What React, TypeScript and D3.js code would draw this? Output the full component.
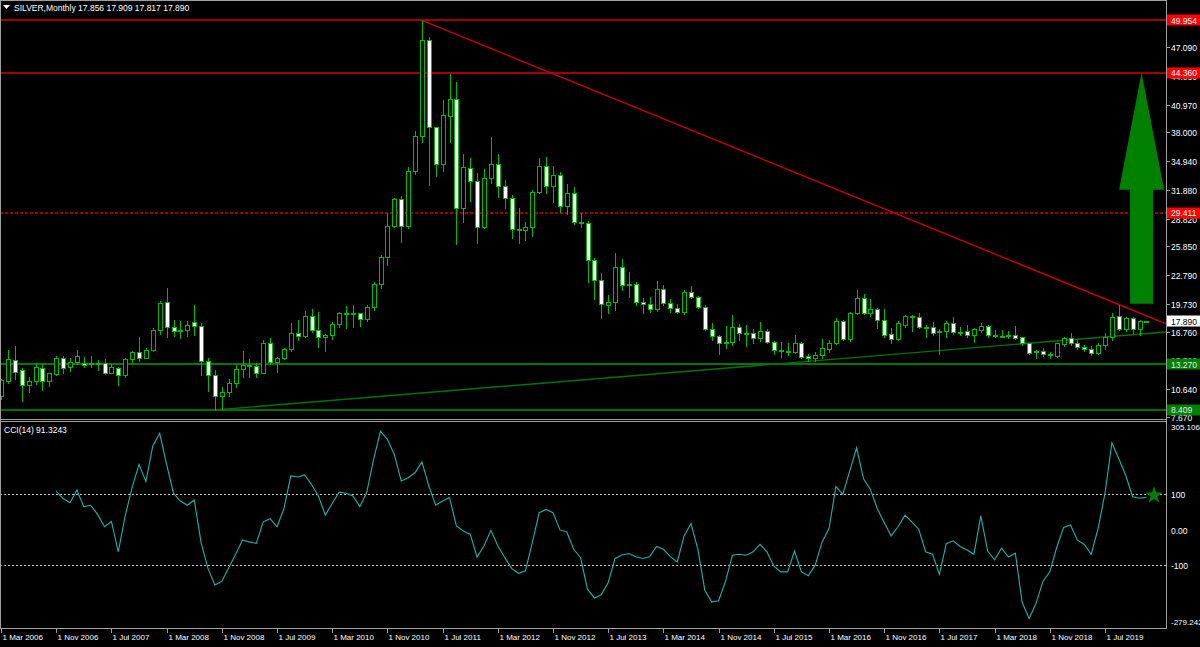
import { useEffect, useRef } from 'react';
import * as d3 from 'd3';

const W = 1200, H = 647;
const PANE_R = 1166;                       // right edge of both panes (price axis line)
const MAIN = { top: 1, bottom: 420 };
const OSC = { top: 422, bottom: 628 };
const FONT = '"Liberation Sans", Arial, sans-serif';

// visible price window of the main pane (MT4 auto-scale)
const PRICE_LO = 7.342, PRICE_HI = 52.118;
const CCI_LO = -279.242, CCI_HI = 305.1067;

// Monthly XAGUSD bars, first bar = Mar 2006, last bar = Jan 2020 (still forming)
const FIRST_MONTH = '2006-03-01';
const OPEN = [
  9.85, 11.55, 13.75, 12.65, 11.05, 11.45, 12.90, 11.45, 12.25, 14.00,
  12.95, 13.50, 13.42, 13.30, 13.40, 13.45, 12.40, 12.92, 12.10, 13.85, 14.55, 14.00,
  14.80, 16.90, 19.89, 17.30, 16.85, 16.95, 17.78, 17.40, 13.65, 12.10, 9.85, 10.35,
  11.25, 12.75, 13.20, 13.05, 12.40, 15.60, 13.56, 13.90, 14.90, 16.65, 16.30, 18.46,
  16.93, 16.22, 16.40, 17.55, 18.70, 18.65, 18.70, 18.10, 19.35, 21.84, 24.75, 28.05,
  30.90, 28.05, 33.92, 37.65, 47.85, 38.55, 34.63, 39.80, 41.53, 29.91, 34.20, 32.82,
  27.90, 33.11, 34.60, 32.30, 31.00, 27.67, 27.55, 27.95, 31.68, 34.45, 32.29, 33.46,
  30.20, 31.50, 28.48, 28.35, 24.40, 22.27, 19.65, 19.90, 23.60, 21.73, 21.88, 19.96,
  19.70, 19.14, 21.27, 19.78, 19.25, 18.85, 21.00, 20.42, 19.40, 17.00, 16.25, 15.50,
  15.65, 17.22, 16.60, 16.65, 16.05, 16.80, 15.69, 14.80, 14.70, 14.55, 15.55, 14.15,
  13.92, 14.27, 14.95, 15.52, 17.90, 15.95, 18.78, 20.38, 18.72, 19.17, 18.00, 16.55,
  15.95, 17.45, 18.30, 18.30, 17.22, 17.28, 16.75, 16.86, 17.65, 16.69, 16.83, 16.40,
  16.93, 17.36, 16.40, 16.35, 16.30, 16.40, 16.15, 15.50, 14.55, 14.70, 14.35, 14.20,
  15.45, 16.05, 15.60, 15.09, 14.95, 14.50, 15.30, 16.22, 18.43, 17.00, 18.18, 17.00,
  17.856,
];
const HIGH = [
  11.75, 14.80, 15.23, 12.90, 11.95, 13.40, 13.30, 12.40, 14.15, 14.20,
  13.95, 14.80, 14.05, 14.16, 13.75, 13.80, 13.30, 13.00, 13.95, 14.70, 16.20, 15.00,
  17.10, 20.00, 21.38, 18.00, 17.90, 17.85, 19.55, 17.70, 14.00, 12.70, 10.90, 11.70,
  13.20, 14.70, 13.88, 13.40, 15.90, 16.10, 14.09, 15.05, 17.68, 17.95, 18.96, 19.20,
  18.85, 16.55, 17.80, 18.85, 19.50, 19.60, 18.75, 19.55, 22.05, 24.90, 29.38, 31.05,
  31.20, 34.35, 38.20, 49.954, 48.14, 38.60, 41.46, 44.23, 43.40, 35.70, 35.30, 33.64,
  34.10, 37.55, 35.70, 32.95, 31.30, 29.90, 28.50, 31.85, 35.24, 35.41, 34.42, 33.81,
  32.50, 32.21, 29.38, 28.60, 24.60, 23.00, 20.67, 25.18, 24.50, 23.09, 22.10, 20.40,
  20.45, 22.20, 21.75, 20.25, 19.70, 21.15, 21.63, 20.60, 19.60, 17.70, 16.45, 17.36,
  18.54, 17.55, 17.47, 17.05, 17.82, 17.00, 15.80, 15.70, 15.50, 16.40, 15.70, 14.40,
  14.55, 15.98, 15.85, 18.25, 17.95, 18.90, 21.20, 20.75, 20.20, 19.30, 19.14, 17.20,
  17.85, 18.50, 18.55, 18.78, 17.47, 17.82, 17.00, 17.90, 18.29, 17.28, 17.47, 17.10,
  17.72, 17.47, 16.93, 16.90, 16.80, 17.35, 16.22, 15.60, 14.80, 14.98, 14.60, 15.60,
  16.22, 16.60, 15.87, 15.30, 15.23, 15.55, 16.62, 18.72, 19.65, 18.30, 18.30, 18.05,
  17.909,
];
const LOW = [
  9.60, 11.30, 11.70, 9.40, 10.35, 11.20, 10.55, 10.95, 12.10, 12.40,
  12.60, 13.30, 12.95, 12.95, 12.70, 12.25, 12.30, 11.05, 11.95, 13.55, 13.60, 13.90,
  14.70, 16.50, 16.15, 16.25, 16.05, 16.30, 16.45, 12.14, 10.40, 8.409, 8.50, 9.90,
  10.90, 11.96, 11.96, 11.90, 12.30, 13.30, 12.45, 13.80, 14.75, 15.90, 16.20, 16.75,
  15.15, 14.65, 15.95, 17.30, 17.10, 17.25, 17.40, 17.85, 19.10, 21.45, 23.87, 27.90,
  26.35, 27.85, 33.57, 37.00, 32.40, 33.40, 33.85, 36.95, 26.07, 28.42, 30.72, 26.18,
  27.80, 32.64, 31.08, 29.91, 26.70, 26.18, 26.53, 26.96, 31.50, 31.50, 30.60, 29.55,
  29.30, 28.24, 27.95, 22.10, 20.20, 18.20, 18.70, 19.07, 21.20, 20.49, 19.60, 18.80,
  18.90, 19.00, 19.60, 18.90, 18.70, 18.65, 20.30, 19.30, 16.90, 15.87, 14.40, 15.00,
  15.30, 15.87, 15.23, 15.60, 15.80, 15.60, 14.38, 14.10, 14.27, 14.45, 13.90, 13.66,
  13.60, 14.00, 14.60, 15.40, 15.85, 15.75, 18.60, 18.60, 18.43, 17.12, 16.15, 15.58,
  15.90, 17.30, 16.86, 17.10, 16.15, 16.40, 14.38, 16.15, 16.55, 16.40, 16.15, 15.70,
  16.75, 16.22, 16.20, 16.15, 16.05, 15.95, 15.30, 14.38, 13.92, 14.17, 13.95, 14.10,
  15.25, 15.34, 14.88, 14.73, 14.27, 14.35, 14.95, 15.90, 16.93, 16.86, 16.65, 16.40,
  17.817,
];
const CLOSE = [
  11.60, 13.80, 12.50, 11.05, 11.50, 12.95, 11.55, 12.30, 14.00, 12.90,
  13.55, 14.15, 13.20, 13.38, 13.35, 12.40, 12.95, 12.10, 13.80, 14.55, 14.00, 14.80,
  16.90, 19.85, 17.22, 16.85, 16.95, 17.45, 17.40, 13.65, 12.10, 9.85, 10.35, 11.25,
  12.75, 13.20, 13.05, 12.40, 15.60, 13.56, 13.90, 14.90, 16.65, 16.30, 18.46, 16.93,
  16.22, 16.40, 17.55, 18.70, 18.65, 18.70, 18.10, 19.35, 21.84, 24.75, 28.05, 30.90,
  28.05, 33.92, 37.65, 47.85, 38.55, 34.63, 39.86, 41.53, 29.91, 34.28, 32.82, 27.89,
  33.11, 34.63, 32.29, 31.00, 27.67, 27.55, 27.95, 31.68, 34.45, 32.29, 33.46, 30.16,
  31.50, 28.48, 28.40, 24.40, 22.27, 19.70, 19.90, 23.62, 21.73, 21.85, 19.96, 19.70,
  19.14, 21.27, 19.78, 19.25, 18.85, 21.00, 20.42, 19.40, 17.00, 16.25, 15.50, 15.65,
  17.22, 16.60, 16.65, 16.05, 16.86, 15.69, 14.80, 14.70, 14.55, 15.55, 14.05, 13.92,
  14.30, 14.98, 15.52, 17.90, 15.95, 18.78, 20.38, 18.72, 19.17, 18.00, 16.40, 15.95,
  17.65, 18.43, 18.43, 17.22, 17.30, 16.65, 16.85, 17.65, 16.69, 16.75, 16.40, 17.00,
  17.36, 16.40, 16.38, 16.30, 16.42, 16.05, 15.50, 14.50, 14.65, 14.35, 14.25, 15.50,
  16.05, 15.50, 15.09, 14.90, 14.50, 15.34, 16.22, 18.35, 17.00, 18.18, 17.00, 17.90,
  17.890,
];

// CCI(14), first value sits on bar 8 (Nov 2006)
const CCI_FIRST_BAR = 8;
const CCI = [
  109, 88, 76, 112, 65, 69, 43, 8, 23, -63, 39, 119, 185, 136, 237, 273,
  185, 103, 81, 69, 84, -37, -110, -157, -147, -108, -70, -30, -35, -39, 22, 31,
  8, 59, 152, 149, 155, 128, 95, 41, 74, 106, 103, 95, 65, 105, 199, 279,
  256, 213, 138, 147, 161, 192, 124, 69, 81, 91, 10, -4, -13, -78, -46, -2,
  -46, -79, -110, -124, -117, -37, 48, 57, 48, -1, -7, -56, -80, -169, -194, -185,
  -150, -82, -72, -68, -77, -82, -77, -48, -56, -77, -92, -18, 17, -56, -172, -205,
  -202, -147, -73, -70, -73, -63, -42, -63, -103, -120, -120, -61, -120, -131, -101, -35,
  3, 122, 100, 166, 232, 144, 114, 59, 20, -18, 8, 41, 22, 1, -63, -70,
  -127, -40, -32, -48, -58, -70, 39, -61, -86, -53, -78, -67, -207, -252, -210, -147,
  -120, -51, 6, 13, -30, -42, -70, 3, 103, 246, 201, 154, 93, 89, 91.3243,
];

const PRICE_TICKS = ['47.090', '44.030', '40.970', '38.000', '34.940', '31.880', '28.820',
  '25.850', '22.790', '19.730', '16.760', '13.700', '10.640', '7.670'];
const CCI_TICKS = ['305.1067', '100', '0.00', '-100', '-279.242'];
const DATE_LABELS = ['1 Mar 2006', '1 Nov 2006', '1 Jul 2007', '1 Mar 2008', '1 Nov 2008',
  '1 Jul 2009', '1 Mar 2010', '1 Nov 2010', '1 Jul 2011', '1 Mar 2012', '1 Nov 2012',
  '1 Jul 2013', '1 Mar 2014', '1 Nov 2014', '1 Jul 2015', '1 Mar 2016', '1 Nov 2016',
  '1 Jul 2017', '1 Mar 2018', '1 Nov 2018', '1 Jul 2019'];

// objects drawn on the chart
const RED_LEVELS = [49.954, 44.36];
const DOTTED_LEVEL = 29.411;
const GREEN_LEVELS = [13.27, 8.409];
const LAST_PRICE = 17.89;
const RED_TREND: [number, number][] = [[61, 49.954], [162, 19.65]];   // [bar, price]
const GREEN_TREND: [number, number][] = [[31, 8.409], [166, 16.55]];
const ARROW = { bar: 165.3, tip: 44.36, shoulder: 31.88, base: 19.73 };
const CCI_LEVELS = [100, -100];

const GREEN = '#00bc00';
const RED = '#d40000';

export default function App() {
  const ref = useRef<SVGSVGElement>(null);

  useEffect(() => {
    document.body.style.margin = '0';
    document.body.style.background = '#000';
    const svg = d3.select(ref.current);
    svg.selectAll('*').remove();

    const n = OPEN.length;
    const x = d3.scaleLinear().domain([0, 166]).range([1, 1146.4]);
    const y = d3.scaleLinear().domain([PRICE_LO, PRICE_HI]).range([MAIN.bottom, 0]);
    const yc = d3.scaleLinear().domain([CCI_LO, CCI_HI]).range([OSC.bottom, OSC.top]);
    const px = (i: number) => Math.round(x(i));
    const py = (p: number) => Math.round(y(p)) + 0.5;

    svg.append('rect').attr('width', W).attr('height', H).attr('fill', '#000');

    const defs = svg.append('defs');
    defs.append('clipPath').attr('id', 'clip-main').append('rect')
      .attr('x', 1).attr('y', MAIN.top).attr('width', PANE_R - 1).attr('height', MAIN.bottom - MAIN.top - 1);
    defs.append('clipPath').attr('id', 'clip-osc').append('rect')
      .attr('x', 1).attr('y', OSC.top).attr('width', PANE_R - 1).attr('height', OSC.bottom - OSC.top);

    // ---- main pane objects ----
    const main = svg.append('g').attr('clip-path', 'url(#clip-main)');
    const levels = main.append('g');
    levels.selectAll('line.red').data(RED_LEVELS).join('line')
      .attr('x1', 0).attr('x2', PANE_R)
      .attr('y1', d => Math.round(y(d))).attr('y2', d => Math.round(y(d)))
      .attr('stroke', RED).attr('stroke-width', 1.6);
    levels.append('line')
      .attr('x1', 0).attr('x2', PANE_R)
      .attr('y1', Math.round(y(DOTTED_LEVEL))).attr('y2', Math.round(y(DOTTED_LEVEL)))
      .attr('stroke', RED).attr('stroke-width', 1.6).attr('stroke-dasharray', '3 2');
    levels.selectAll('line.green').data(GREEN_LEVELS).join('line')
      .attr('x1', 0).attr('x2', PANE_R)
      .attr('y1', d => Math.round(y(d))).attr('y2', d => Math.round(y(d)))
      .attr('stroke', (d, i) => i === 0 ? '#00a000' : '#006e00')
      .attr('stroke-width', (d, i) => i === 0 ? 1.4 : 2);

    // trend rays: from the first anchor out to the right edge of the pane
    const ray = (t: [number, number][], color: string, w: number) => {
      const [[b0, p0], [b1, p1]] = t;
      const slope = (y(p1) - y(p0)) / (x(b1) - x(b0));
      main.append('line')
        .attr('x1', x(b0)).attr('y1', y(p0))
        .attr('x2', PANE_R).attr('y2', y(p0) + slope * (PANE_R - x(b0)))
        .attr('stroke', color).attr('stroke-width', w);
    };
    ray(RED_TREND, '#c80000', 1.4);
    ray(GREEN_TREND, '#007400', 1.4);

    // candles
    const bars = d3.range(n);
    const candles = main.append('g').attr('shape-rendering', 'crispEdges');
    candles.append('g').selectAll('line').data(bars).join('line')
      .attr('x1', i => px(i) + 0.5).attr('x2', i => px(i) + 0.5)
      .attr('y1', i => Math.round(y(HIGH[i]))).attr('y2', i => Math.round(y(LOW[i])) + 1)
      .attr('stroke', GREEN);
    candles.append('g').selectAll('rect').data(bars).join('rect')
      .attr('x', i => px(i) - 1.5)
      .attr('width', 4)
      .attr('y', i => Math.round(y(Math.max(OPEN[i], CLOSE[i]))) + 0.5)
      .attr('height', i => Math.max(1, Math.round(y(Math.min(OPEN[i], CLOSE[i]))) - Math.round(y(Math.max(OPEN[i], CLOSE[i])))))
      .attr('fill', i => CLOSE[i] >= OPEN[i] ? '#000' : '#fff')
      .attr('stroke', GREEN);

    // big up arrow
    const ax = x(ARROW.bar);
    const arrow: [number, number][] = [
      [ax, y(ARROW.tip)], [ax + 22.5, y(ARROW.shoulder)], [ax + 11.5, y(ARROW.shoulder)],
      [ax + 11.5, y(ARROW.base)], [ax - 11.5, y(ARROW.base)], [ax - 11.5, y(ARROW.shoulder)],
      [ax - 22.5, y(ARROW.shoulder)],
    ];
    main.append('path').attr('d', d3.line()(arrow) + 'Z').attr('fill', '#008000');

    // ---- CCI pane ----
    const osc = svg.append('g').attr('clip-path', 'url(#clip-osc)');
    osc.selectAll('line').data(CCI_LEVELS).join('line')
      .attr('x1', 0).attr('x2', PANE_R)
      .attr('y1', d => Math.round(yc(d)) + 0.5).attr('y2', d => Math.round(yc(d)) + 0.5)
      .attr('stroke', '#c8c8c8').attr('stroke-dasharray', '2 2').attr('shape-rendering', 'crispEdges');
    const cciLine = d3.line<number>().x((_, i) => x(CCI_FIRST_BAR + i)).y(v => yc(v));
    osc.append('path').attr('d', cciLine(CCI) ?? '')
      .attr('fill', 'none').attr('stroke', '#20b2aa').attr('stroke-width', 1.1);
    osc.append('path')
      .attr('d', d3.symbol().type(d3.symbolStar).size(95)() ?? '')
      .attr('transform', `translate(${PANE_R - 12},${yc(100) + 1})`)
      .attr('fill', '#008000');

    // ---- frames ----
    const frame = svg.append('g').attr('stroke', '#a0a0a0').attr('fill', 'none').attr('shape-rendering', 'crispEdges');
    frame.append('line').attr('x1', 0).attr('x2', PANE_R + 0.5).attr('y1', 0.5).attr('y2', 0.5);
    frame.append('line').attr('x1', 0.5).attr('x2', 0.5).attr('y1', 0).attr('y2', OSC.bottom);
    frame.append('line').attr('x1', PANE_R + 0.5).attr('x2', PANE_R + 0.5).attr('y1', 0).attr('y2', OSC.bottom + 1);
    frame.append('line').attr('x1', 0).attr('x2', PANE_R).attr('y1', MAIN.bottom - 0.5).attr('y2', MAIN.bottom - 0.5);
    frame.append('line').attr('x1', 0).attr('x2', PANE_R).attr('y1', OSC.top - 0.5).attr('y2', OSC.top - 0.5);
    frame.append('line').attr('x1', 0).attr('x2', PANE_R + 0.5).attr('y1', OSC.bottom + 0.5).attr('y2', OSC.bottom + 0.5);

    const txt = (g: d3.Selection<SVGGElement, unknown, null, undefined>) =>
      g.attr('font-family', FONT).attr('font-size', 8.5).attr('fill', '#fff');

    // price axis
    const pa = svg.append('g').call(txt);
    pa.selectAll('line').data(PRICE_TICKS).join('line')
      .attr('x1', PANE_R).attr('x2', PANE_R + 4)
      .attr('y1', d => py(+d)).attr('y2', d => py(+d))
      .attr('stroke', '#a0a0a0').attr('shape-rendering', 'crispEdges');
    pa.selectAll('text').data(PRICE_TICKS).join('text')
      .attr('x', PANE_R + 5).attr('y', d => y(+d) + 4).text(d => d);

    // price tags of the objects (drawn over the tick labels, as in the terminal)
    const tag = (price: number, bg: string, fg: string) => {
      const g = svg.append('g');
      const cy = y(price);
      g.append('rect').attr('x', PANE_R + 1).attr('y', Math.round(cy) - 5.5)
        .attr('width', 33).attr('height', 11).attr('fill', bg);
      g.append('text').attr('x', PANE_R + 5).attr('y', cy + 3.5)
        .attr('font-family', FONT).attr('font-size', 8.5).attr('fill', fg)
        .text(d3.format('.3f')(price));
    };
    RED_LEVELS.forEach(p => tag(p, '#ff0000', '#fff'));
    tag(DOTTED_LEVEL, '#ff0000', '#fff');
    GREEN_LEVELS.forEach(p => tag(p, '#008000', '#e8e8e8'));
    tag(LAST_PRICE, '#fff', '#000');

    // CCI axis
    const ca = svg.append('g').call(txt);
    ca.selectAll('text').data(CCI_TICKS).join('text')
      .attr('x', PANE_R + 5)
      .attr('font-size', (d, i) => i === 0 || i === CCI_TICKS.length - 1 ? 8 : 8.5)
      .attr('y', d => Math.min(OSC.bottom - 3, Math.max(OSC.top + 8, yc(+d) + 4)))
      .text(d => d);

    // time axis
    const parse = d3.utcParse('%d %b %Y');
    const first = new Date(FIRST_MONTH + 'T00:00:00Z');
    const ta = svg.append('g').call(txt);
    DATE_LABELS.forEach(lbl => {
      const i = d3.utcMonth.count(first, parse(lbl)!);
      const tx = px(i) + 0.5;
      ta.append('line').attr('x1', tx).attr('x2', tx).attr('y1', OSC.bottom + 1).attr('y2', OSC.bottom + 5)
        .attr('stroke', '#a0a0a0');
      ta.append('text').attr('x', tx + 1).attr('y', 639.5).attr('font-size', 8).text(lbl);
    });

    // headers
    svg.append('path').attr('d', 'M3,5 L10,5 L6.5,9 Z').attr('fill', '#fff');
    svg.append('text').attr('x', 14).attr('y', 11).attr('font-family', FONT)
      .attr('font-size', 8.5).attr('fill', '#fff')
      .text('SILVER,Monthly  17.856 17.909 17.817 17.890');
    svg.append('text').attr('x', 4).attr('y', OSC.top + 11).attr('font-family', FONT)
      .attr('font-size', 8.5).attr('fill', '#fff')
      .text(`CCI(14) ${CCI[CCI.length - 1]}`);
  }, []);

  return (
    <svg ref={ref} width={W} height={H} viewBox={`0 0 ${W} ${H}`}
      style={{ display: 'block', position: 'absolute', left: 0, top: 0 }} />
  );
}
